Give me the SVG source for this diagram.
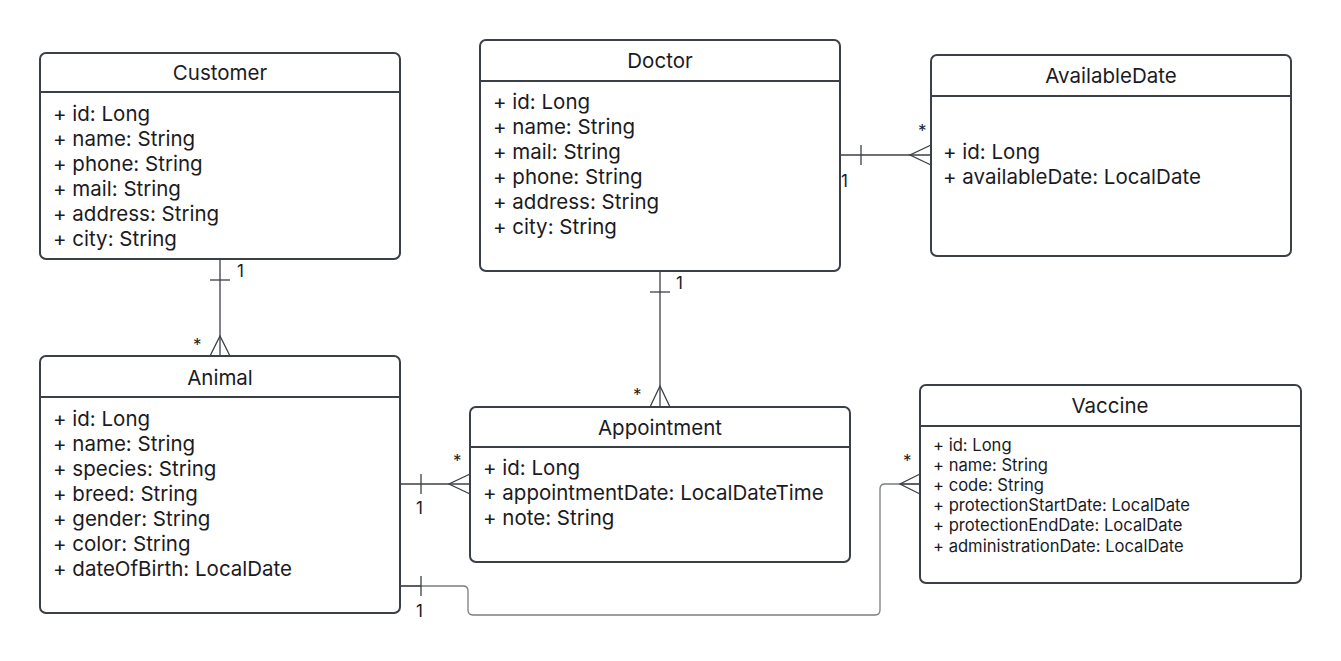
<svg xmlns="http://www.w3.org/2000/svg" width="1341" height="661" viewBox="0 0 1341 661">
<style>
.box{fill:#fff;stroke:#3b3f47;stroke-width:2}
.sep{stroke:#3b3f47;stroke-width:2}
.title{font-family:Inter,"Liberation Sans",sans-serif;font-size:20.5px;fill:#1b1b1f;text-anchor:middle}
.attr{font-family:Inter,"Liberation Sans",sans-serif;font-size:20.5px;fill:#1b1b1f}
.sattr{font-family:Inter,"Liberation Sans",sans-serif;font-size:16.6px;fill:#1b1b1f}
.lbl{font-family:Inter,"Liberation Sans",sans-serif;font-size:17px;fill:#1b1b1f}
.c{fill:none;stroke:#3b3f47;stroke-width:1.3}
.c2{fill:none;stroke:#7a7d83;stroke-width:1.3}
</style>
<rect width="1341" height="661" fill="#fff"/>
<g id="connectors">
  <!-- Customer - Animal -->
  <line class="c" x1="220" y1="259" x2="220" y2="356"/>
  <line class="c" x1="210" y1="280" x2="230" y2="280"/>
  <polyline class="c" points="210,356 220,336 230,356"/>
  <text class="lbl" x="237" y="277">1</text>
  <text class="lbl" x="193" y="351">*</text>
  <!-- Doctor - Appointment -->
  <line class="c" x1="660" y1="271" x2="660" y2="407"/>
  <line class="c" x1="650" y1="292" x2="670" y2="292"/>
  <polyline class="c" points="650,407 660,386 670,407"/>
  <text class="lbl" x="676" y="289">1</text>
  <text class="lbl" x="633" y="401">*</text>
  <!-- Doctor - AvailableDate -->
  <line class="c" x1="840" y1="155" x2="931" y2="155"/>
  <line class="c" x1="861" y1="145" x2="861" y2="165"/>
  <polyline class="c" points="931,145 910,155 931,165"/>
  <text class="lbl" x="918" y="137">*</text>
  <text class="lbl" x="841" y="187">1</text>
  <!-- Animal - Appointment -->
  <line class="c" x1="400" y1="484" x2="470" y2="484"/>
  <line class="c" x1="421" y1="474" x2="421" y2="494"/>
  <polyline class="c" points="470,474 449,484 470,494"/>
  <text class="lbl" x="416" y="514">1</text>
  <text class="lbl" x="453" y="467">*</text>
  <!-- Animal - Vaccine -->
  <path class="c2" d="M400,586 H463 Q468,586 468,591 V610 Q468,615 473,615 H875 Q880,615 880,610 V489 Q880,484 885,484 H920"/>
  <line class="c" x1="400" y1="586" x2="421" y2="586"/>
  <line class="c" x1="421" y1="576" x2="421" y2="596"/>
  <polyline class="c" points="920,474 900,484 920,494"/>
  <line class="c" x1="900" y1="484" x2="920" y2="484"/>
  <text class="lbl" x="416" y="617">1</text>
  <text class="lbl" x="903" y="467">*</text>
</g>
<g id="customer">
  <rect class="box" x="40" y="53" width="360" height="206" rx="6"/>
  <line class="sep" x1="40" y1="92" x2="400" y2="92"/>
  <text class="title" x="220" y="80">Customer</text>
  <text class="attr" x="53" y="121">+ id: Long</text>
  <text class="attr" x="53" y="146">+ name: String</text>
  <text class="attr" x="53" y="171">+ phone: String</text>
  <text class="attr" x="53" y="196">+ mail: String</text>
  <text class="attr" x="53" y="221">+ address: String</text>
  <text class="attr" x="53" y="246">+ city: String</text>
</g>
<g id="doctor">
  <rect class="box" x="480" y="40" width="360" height="231" rx="6"/>
  <line class="sep" x1="480" y1="81" x2="840" y2="81"/>
  <text class="title" x="660" y="68">Doctor</text>
  <text class="attr" x="493" y="109">+ id: Long</text>
  <text class="attr" x="493" y="134">+ name: String</text>
  <text class="attr" x="493" y="159">+ mail: String</text>
  <text class="attr" x="493" y="184">+ phone: String</text>
  <text class="attr" x="493" y="209">+ address: String</text>
  <text class="attr" x="493" y="234">+ city: String</text>
</g>
<g id="availabledate">
  <rect class="box" x="931" y="55" width="360" height="201" rx="6"/>
  <line class="sep" x1="931" y1="96" x2="1291" y2="96"/>
  <text class="title" x="1111" y="83">AvailableDate</text>
  <text class="attr" x="943" y="159">+ id: Long</text>
  <text class="attr" x="943" y="184">+ availableDate: LocalDate</text>
</g>
<g id="animal">
  <rect class="box" x="40" y="356" width="360" height="257" rx="6"/>
  <line class="sep" x1="40" y1="397" x2="400" y2="397"/>
  <text class="title" x="220" y="385">Animal</text>
  <text class="attr" x="53" y="426">+ id: Long</text>
  <text class="attr" x="53" y="451">+ name: String</text>
  <text class="attr" x="53" y="476">+ species: String</text>
  <text class="attr" x="53" y="501">+ breed: String</text>
  <text class="attr" x="53" y="526">+ gender: String</text>
  <text class="attr" x="53" y="551">+ color: String</text>
  <text class="attr" x="53" y="576">+ dateOfBirth: LocalDate</text>
</g>
<g id="appointment">
  <rect class="box" x="470" y="407" width="380" height="155" rx="6"/>
  <line class="sep" x1="470" y1="447" x2="850" y2="447"/>
  <text class="title" x="660" y="435">Appointment</text>
  <text class="attr" x="483" y="475">+ id: Long</text>
  <text class="attr" x="483" y="500">+ appointmentDate: LocalDateTime</text>
  <text class="attr" x="483" y="525">+ note: String</text>
</g>
<g id="vaccine">
  <rect class="box" x="920" y="385" width="381" height="198" rx="6"/>
  <line class="sep" x1="920" y1="426" x2="1301" y2="426"/>
  <text class="title" x="1110" y="413">Vaccine</text>
  <text class="sattr" x="933" y="451">+ id: Long</text>
  <text class="sattr" x="933" y="471">+ name: String</text>
  <text class="sattr" x="933" y="491">+ code: String</text>
  <text class="sattr" x="933" y="511">+ protectionStartDate: LocalDate</text>
  <text class="sattr" x="933" y="531">+ protectionEndDate: LocalDate</text>
  <text class="sattr" x="933" y="552">+ administrationDate: LocalDate</text>
</g>
</svg>
